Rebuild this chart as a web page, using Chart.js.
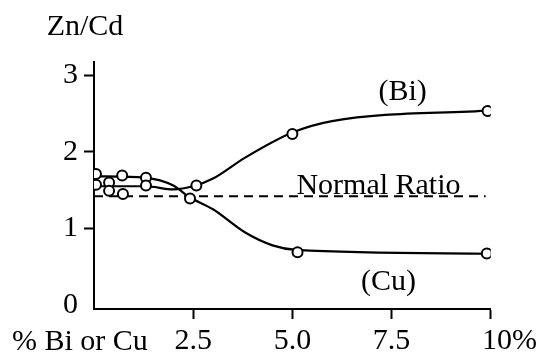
<!DOCTYPE html>
<html>
<head>
<meta charset="utf-8">
<title>Zn/Cd</title>
<script src="https://cdn.jsdelivr.net/npm/chart.js"></script>
<style>
  body { margin: 0; background: #fff; }
  #wrap { width: 541px; height: 363px; position: relative; }
</style>
</head>
<body>
<div id="wrap"><canvas id="myChart"></canvas></div>
<script>
// measured points
const biX = [0.05, 0.38, 0.73, 1.31, 2.58, 5.0, 9.92];
const biY = [1.57, 1.49, 1.45, 1.56, 1.56, 2.23, 2.53];
const cuX = [0.05, 0.38, 0.71, 1.31, 2.42, 5.13, 9.9];
const cuY = [1.71, 1.60, 1.69, 1.66, 1.39, 0.69, 0.675];
// drawn curves
const biCurveX = [0, 1.3, 2.0, 2.5, 3.0, 3.8, 5.0, 6.0, 10];
const biCurveY = [1.55, 1.55, 1.51, 1.55, 1.65, 1.92, 2.25, 2.4, 2.54];
const cuCurveX = [0, 1.3, 2.0, 2.4, 3.0, 3.8, 4.5, 5.1, 10];
const cuCurveY = [1.68, 1.66, 1.56, 1.41, 1.25, 0.95, 0.78, 0.72, 0.67];
const normalRatio = 1.42;
const normalX = [0, 9.87];
// axes
const xTicks = [2.5, 5, 7.5, 10];
const xTickLabels = ['2.5', '5.0', '7.5', '10%'];
const yTicks = [0, 1, 2, 3];
const yTickLabels = ['0', '1', '2', '3'];

const FONT = { family: '"Liberation Serif", "Times New Roman", serif', size: 30 };
const pts = (xs, ys) => xs.map((x, i) => ({ x: x, y: ys[i] }));

const textPlugin = {
  id: 'texts',
  afterDraw(chart) {
    const c = chart.ctx, xs = chart.scales.x, ys = chart.scales.y;
    c.save();
    c.fillStyle = '#000';
    c.font = FONT.size + 'px ' + FONT.family;
    c.textBaseline = 'middle';
    c.textAlign = 'center';
    c.fillText('Zn/Cd', 85, 27);
    c.textAlign = 'left';
    c.fillText('% Bi or Cu', 12, 342);
    c.textAlign = 'center';
    c.fillText('(Bi)', xs.getPixelForValue(7.78), ys.getPixelForValue(2.78));
    c.fillText('(Cu)', xs.getPixelForValue(7.42), ys.getPixelForValue(0.3));
    c.textBaseline = 'alphabetic';
    c.fillText('Normal Ratio', xs.getPixelForValue(7.17), ys.getPixelForValue(normalRatio) - 2);
    c.restore();
  }
};

const ctx = document.getElementById('myChart').getContext('2d');
new Chart(ctx, {
  type: 'scatter',
  data: {
    datasets: [
      { data: pts(biX, biY), showLine: false, pointRadius: 5, pointBorderWidth: 2,
        pointBackgroundColor: '#fff', pointBorderColor: '#000', order: 0 },
      { data: pts(cuX, cuY), showLine: false, pointRadius: 5, pointBorderWidth: 2,
        pointBackgroundColor: '#fff', pointBorderColor: '#000', order: 0 },
      { data: pts(biCurveX, biCurveY), showLine: true, pointRadius: 0, borderColor: '#000',
        borderWidth: 2.2, cubicInterpolationMode: 'monotone', order: 1 },
      { data: pts(cuCurveX, cuCurveY), showLine: true, pointRadius: 0, borderColor: '#000',
        borderWidth: 2.2, cubicInterpolationMode: 'monotone', order: 1 },
      { data: normalX.map(x => ({ x: x, y: normalRatio })), showLine: true, pointRadius: 0,
        borderColor: '#000', borderWidth: 2, borderDash: [9, 6], order: 2 }
    ]
  },
  options: {
    responsive: true,
    maintainAspectRatio: false,
    animation: false,
    layout: { padding: { top: 62, right: 50, left: 0, bottom: 0 } },
    plugins: { legend: { display: false }, tooltip: { enabled: false } },
    scales: {
      x: {
        type: 'linear', min: 0, max: 10,
        afterFit: s => { s.height = 54; },
        afterBuildTicks: s => { s.ticks = xTicks.map(v => ({ value: v })); },
        border: { color: '#000', width: 2 },
        grid: { drawOnChartArea: false, drawTicks: true, tickLength: 10, tickWidth: 2, tickColor: '#000' },
        ticks: {
          color: '#000', font: FONT, padding: 4, maxRotation: 0, autoSkip: false,
          callback: v => {
            const i = xTicks.indexOf(v);
            if (i < 0) return '';
            return v === 10 ? '\u2002\u2002 ' + xTickLabels[i] : xTickLabels[i];
          }
        }
      },
      y: {
        type: 'linear', min: -0.05, max: 3.17,
        afterFit: s => { s.width = 94; },
        afterBuildTicks: s => { s.ticks = yTicks.map(v => ({ value: v })); },
        border: { color: '#000', width: 2 },
        grid: { drawOnChartArea: false, drawTicks: true, tickLength: 10, tickWidth: 2,
          tickColor: c => (c.tick && c.tick.value === 0) ? 'rgba(0,0,0,0)' : '#000' },
        ticks: {
          color: '#000', font: FONT, padding: 6,
          callback: v => { const i = yTicks.indexOf(v); return i < 0 ? '' : yTickLabels[i]; }
        }
      }
    }
  },
  plugins: [textPlugin]
});
</script>
</body>
</html>
